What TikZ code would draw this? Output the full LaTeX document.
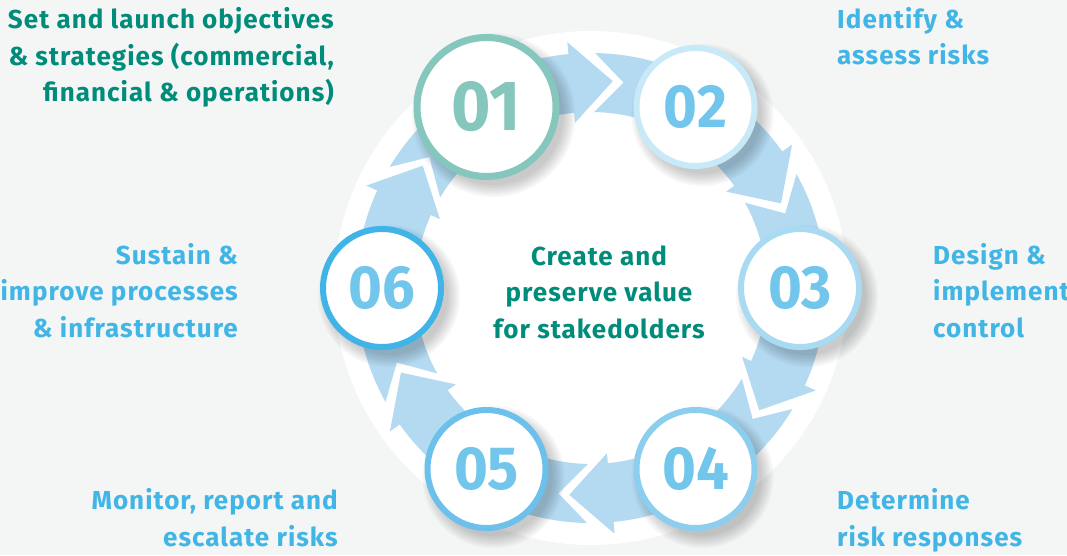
\documentclass[tikz,border=0pt]{standalone}
\usepackage{fontspec}
\setmainfont{Fira Sans}
\newfontfamily\labelfont{Fira Sans}[LetterSpace=4]
\usetikzlibrary{positioning}
\definecolor{bggray}{RGB}{244,246,246}
\definecolor{bandblue}{RGB}{180,218,242}
\definecolor{tealtxt}{RGB}{0,140,122}
\definecolor{bluetxt}{RGB}{64,181,230}
\definecolor{tealring}{RGB}{133,198,189}
\definecolor{ringA}{RGB}{200,234,248}
\definecolor{ringB}{RGB}{168,218,242}
\definecolor{ringC}{RGB}{140,206,238}
\definecolor{ringD}{RGB}{108,192,236}
\definecolor{ringE}{RGB}{64,180,230}
\definecolor{numblue}{RGB}{114,198,236}
\tikzstyle{phase circle} = [circle, fill=white, line width=6pt, minimum size=118pt, inner sep=0pt, text=numblue]
\tikzstyle{big circle} = [circle, fill=white, line width=7pt, minimum size=139pt, inner sep=0pt, text=tealring]
\tikzstyle{phase text} = [font=\labelfont\bfseries\fontsize{26}{36.5}\selectfont, inner sep=0pt]
\newcommand{\phasenum}[2]{\scalebox{0.95}[1]{\fontsize{#1}{#1}\selectfont\bfseries #2}}

\begin{document}
\begin{tikzpicture}[x=1pt,y=1pt]

    \useasboundingbox (0,0) rectangle (1067,555);
    \fill[bggray] (0,0) rectangle (1067,555);
    \coordinate (C) at (591,267);
    \fill[white] (C) circle (257);

    % arrows
    \foreach \g in {150,90,30,-30,-90,-150}{
        \pgfmathsetmacro\sa{\g-1}
        \pgfmathsetmacro\nv{\g-9}
        \pgfmathsetmacro\hb{\g-54.5}
        \pgfmathsetmacro\ht{\g-66}
        \fill[bandblue, shift={(C)}] (\sa:235) arc[start angle=\sa, end angle=\hb, radius=235]
            -- (\hb:247) -- (\ht:208) -- (\hb:166) -- (\hb:176)
            arc[start angle=\hb, end angle=\sa, radius=176] -- (\nv:208) -- cycle;
    }

    \foreach \n/\a in {1/120,2/60,3/0,4/-60,5/-120,6/180}
        \coordinate (p\n) at ([shift={(\a:209)}]C);

    % shadows
    \foreach \n/\r in {1/73,2/62,3/62,4/62,5/62,6/62}
        \foreach \k in {0,...,6}
            \fill[black, opacity=0.03] ([shift={(7,-8)}]p\n) circle (\r-3+2*\k);

    \node[big circle, draw=tealring] (c1) at (p1) {\phasenum{71}{01}};
    \node[phase circle, draw=ringA] (c2) at (p2) {\phasenum{61}{02}};
    \node[phase circle, draw=ringB] (c3) at (p3) {\phasenum{61}{03}};
    \node[phase circle, draw=ringC] (c4) at (p4) {\phasenum{61}{04}};
    \node[phase circle, draw=ringD] (c5) at (p5) {\phasenum{61}{05}};
    \node[phase circle, draw=ringE] (c6) at (p6) {\phasenum{61}{06}};

    \node[phase text, text=tealtxt, align=center, anchor=base] (mid) at (599,217) {Create and\\preserve value\\for stakedolders};

    \node[phase text, text=tealtxt, align=right, anchor=base east] (t1) at (334,453) {Set and launch objectives\\\& strategies (commercial,\\financial \& operations)};
    \node[phase text, text=bluetxt, align=left, anchor=base west] (t2) at (837,490) {Identify \&\\assess risks};
    \node[phase text, text=bluetxt, align=left, anchor=base west] (t3) at (933,218) {Design \&\\implement\\control};
    \node[phase text, text=bluetxt, align=left, anchor=base west] (t4) at (837,9) {Determine\\risk responses};
    \node[phase text, text=bluetxt, align=right, anchor=base east] (t5) at (338,9) {Monitor, report and\\escalate risks};
    \node[phase text, text=bluetxt, align=right, anchor=base east] (t6) at (238,218) {Sustain \&\\improve processes\\\& infrastructure};

\end{tikzpicture}
\end{document}
